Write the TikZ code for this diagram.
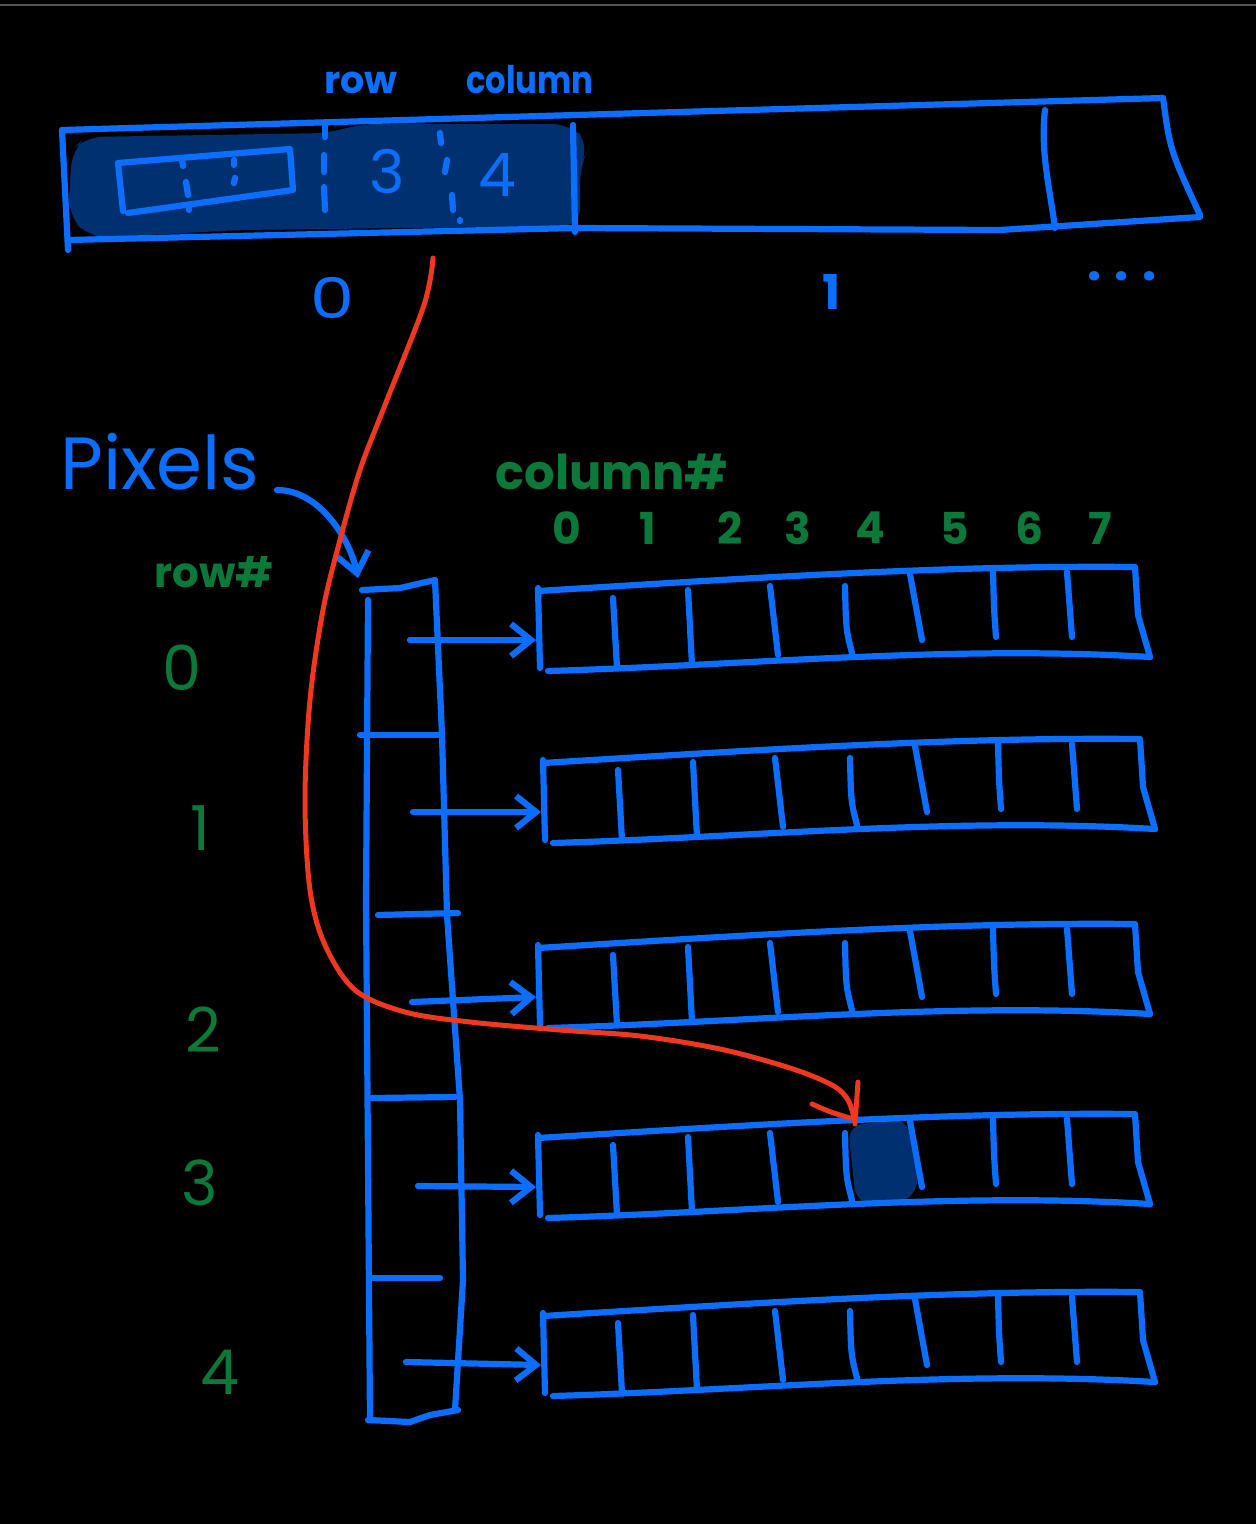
\documentclass[tikz,border=0pt]{standalone}
\usepackage{fontspec}
\setmainfont{Poppins}
\usetikzlibrary{arrows.meta}
\definecolor{pblue}{RGB}{12,110,255}
\definecolor{pdark}{RGB}{0,48,112}
\definecolor{pgreen}{RGB}{12,120,58}
\definecolor{pred}{RGB}{240,56,32}
\definecolor{pgray}{RGB}{85,85,85}
\newcommand{\pixrow}[3]{%
\begin{scope}[shift={(#2,#3)}]
 \draw[blu] (538,588) -- (540,668);
 \draw[blu] (538,591) .. controls (750,578) and (950,565) .. (1135,567) -- (1138,615) -- (1150,657);
 \draw[blu] (548,671) .. controls (750,665) and (950,645) .. (1150,657);
 \draw[blu] (613,598) -- (617,668);
 \draw[blu] (688,590) -- (692,665);
 \draw[blu] (770,586) -- (778,655);
 \draw[blu] (845,586) .. controls (846,630) .. (852,653);
 \draw[blu] (910,574) -- (922,640);
 \draw[blu] (993,572) .. controls (994,610) .. (996,637);
 \draw[blu] (1067,572) -- (1072,637);
 \coordinate (#1) at (536,640);
\end{scope}}
\begin{document}
\begin{tikzpicture}[x=1pt,y=-1pt,line cap=round,line join=round,
  blu/.style={draw=pblue,line width=6.2pt},
  redline/.style={draw=pred,line width=5pt},
  arr/.style={blu,-{Straight Barb[length=20pt,width=32pt]}},
  lbl/.style={text=pblue,inner sep=0pt},
  glbl/.style={text=pgreen,inner sep=0pt}]
\fill[black] (0,0) rectangle (1256,1524);
\useasboundingbox (0,0) rectangle (1256,1524);
\draw[pgray,line width=2pt] (0,5) -- (1256,5);

% ---------- top array ----------
\fill[pdark,rounded corners=18pt] (72,150) -- (85,137) -- (330,133) -- (360,124) -- (570,124) -- (590,145) -- (580,165) -- (580,226) -- (240,230) -- (90,238) -- (68,215) -- cycle;
\draw[blu] (62,130) -- (575,115) -- (1163,98);
\draw[blu] (62,130) -- (68,250);
\draw[blu] (68,240) -- (575,228) -- (1000,230) -- (1200,217);
\draw[blu] (1163,98) .. controls (1170,150) .. (1200,215);
\draw[blu] (573,125) -- (575,232);
\draw[blu] (1045,110) .. controls (1040,150) and (1050,190) .. (1055,228);
% inner record
\draw[blu] (118,163) -- (290,149) -- (293,190) -- (128,213);
\draw[blu] (118,163) -- (123,211);
\draw[blu] (182,160) -- (183,166);
\draw[blu] (186,182) -- (188,195);
\draw[blu] (189,207) -- (189,210);
\draw[blu] (234,160) -- (234,165);
\draw[blu] (235,178) -- (234,183);
% dashed separators
\draw[blu] (325,126) -- (325,137);
\draw[blu] (324,155) -- (324,172);
\draw[blu] (324,187) -- (325,210);
\draw[blu] (440,133) -- (441,143);
\draw[blu] (447,160) -- (445,172);
\draw[blu] (452,195) -- (453,210);
\draw[blu] (460,220) -- (460,221);
\node[lbl,font=\fontsize{60}{60}\selectfont] (three) at (387,172) {3};
\node[lbl,font=\fontsize{60}{60}\selectfont] (four) at (497,175) {4};
\node[lbl,font=\bfseries\fontsize{38}{38}\selectfont] (rowlbl) at (361,83) {row};
\node[lbl,font=\bfseries\fontsize{38}{38}\selectfont,xscale=0.85] (collbl) at (530,80) {column};
\node[lbl,font=\fontsize{56}{56}\selectfont,xscale=1.25] (idx0) at (332,298) {0};
\node[lbl,font=\bfseries\fontsize{48}{48}\selectfont] (idx1) at (832,292) {1};
\node[lbl,font=\bfseries\fontsize{50}{50}\selectfont] (dots) at (1122,276) {.\hspace{13pt}.\hspace{13pt}.};

% ---------- labels ----------
\node[lbl,font=\fontsize{74}{74}\selectfont] (pixels) at (160,462) {Pixels};
\node[glbl,font=\bfseries\fontsize{48}{48}\selectfont] (colhash) at (612,472) {column\#};
\node[glbl,font=\bfseries\fontsize{42}{42}\selectfont] (rowhash) at (214,572) {row\#};
\foreach \x/\t [count=\i from 0] in {567/0,648/1,730/2,798/3,870/4,955/5,1030/6,1100/7}
  \node[glbl,font=\bfseries\fontsize{44}{44}\selectfont] (c\i) at (\x,528) {\t};
\foreach \y/\t/\x [count=\i from 0] in {668/0/182,828/1/200,1030/2/203,1183/3/200,1372/4/220}
  \node[glbl,font=\fontsize{62}{62}\selectfont] (r\i) at (\x,\y) {\t};

% ---------- pointer array ----------
\draw[blu] (362,590) -- (400,588) -- (435,580);
\draw[blu] (368,600) -- (366,900) -- (370,1420);
\draw[blu] (435,580) -- (442,735) -- (447,915) -- (460,1100) -- (463,1280) -- (455,1410);
\draw[blu] (368,1420) -- (410,1422) -- (430,1415) -- (458,1410);
\draw[blu] (360,735) -- (440,735);
\draw[blu] (378,915) -- (458,913);
\draw[blu] (372,1098) -- (455,1097);
\draw[blu] (372,1278) -- (440,1278);
\coordinate (p0) at (410,640);
\coordinate (p1) at (413,812);
\coordinate (p2) at (412,1002);
\coordinate (p3) at (418,1186);
\coordinate (p4) at (406,1362);

% ---------- row arrays ----------
\fill[pdark,rounded corners=14pt] (848,1126) -- (906,1118) -- (920,1188) -- (898,1206) -- (856,1202) -- cycle;
\pixrow{row0}{0}{0}
\pixrow{row1}{5}{172}
\pixrow{row2}{0}{357}
\pixrow{row3}{0}{547}
\pixrow{row4}{5}{725}

\draw[arr] (p0) -- (row0);
\draw[arr] (p1) -- (row1);
\draw[arr] (p2) -- (row2);
\draw[arr] (p3) -- (row3);
\draw[arr] (p4) -- (row4);

% ---------- pixels arrow ----------
\coordinate (pxstart) at (277,490);
\coordinate (pxend) at (358,578);
\draw[arr] (pxstart) .. controls (320,490) and (350,540) .. (pxend);

% ---------- red pointer ----------
\coordinate (redstart) at (433,258);
\coordinate (redend) at (855,1122);
\draw[redline] plot[smooth,tension=0.55] coordinates {(redstart) (424,305) (385,405) (360,470) (340,540) (323,610) (310,700) (305,800) (310,890) (325,945) (355,990) (405,1012) (470,1022) (560,1030) (640,1036) (720,1049) (790,1068) (832,1085) (848,1100) (redend)};
\draw[redline] (812,1104) .. controls (830,1112) .. (850,1118);
\draw[redline] (858,1082) -- (855,1124);
\end{tikzpicture}
\end{document}
